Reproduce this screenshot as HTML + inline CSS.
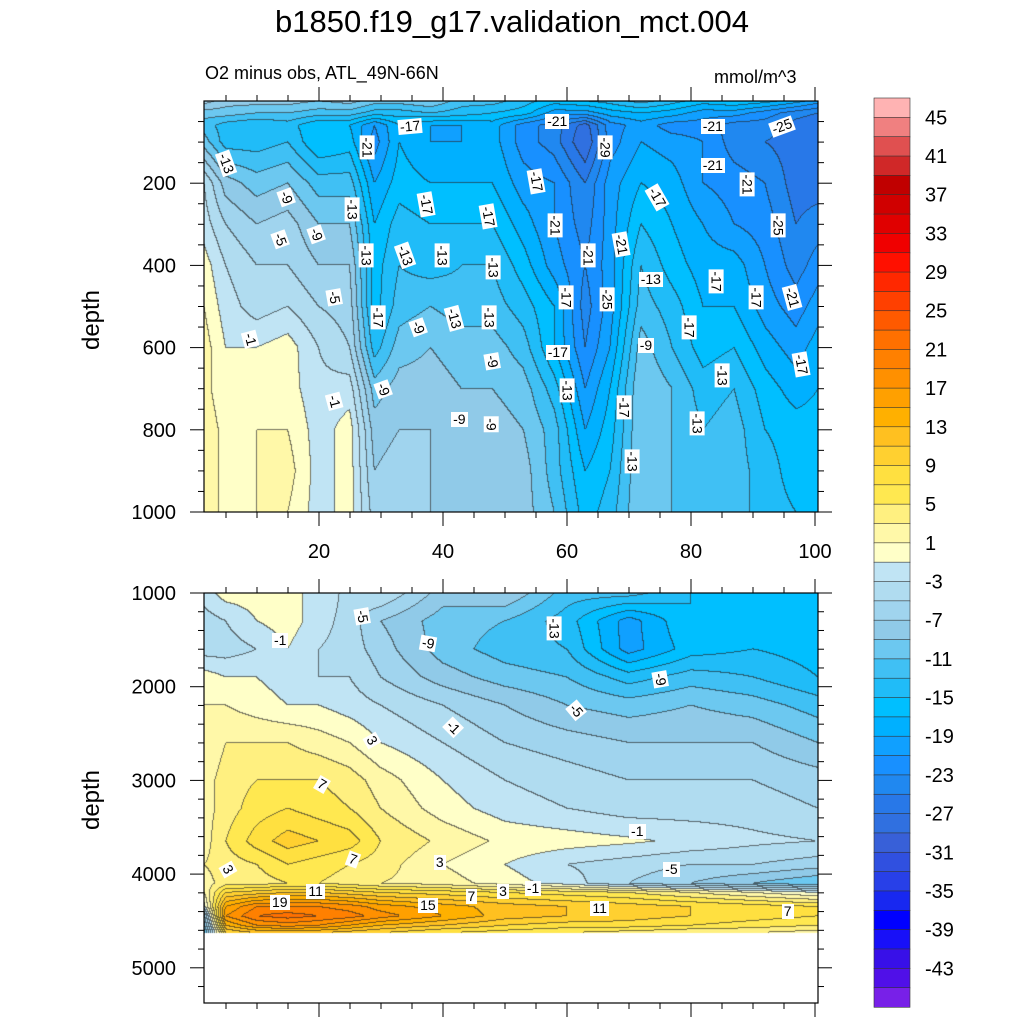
<!DOCTYPE html>
<html><head><meta charset="utf-8">
<style>
body{margin:0;background:#fff;width:1024px;height:1024px;position:relative;overflow:hidden;font-family:"Liberation Sans",sans-serif;}
.t{position:absolute;white-space:nowrap;color:#000;}
canvas{position:absolute;}
.lbl{position:absolute;background:#fff;font-size:14px;line-height:15px;padding:0 2px;transform-origin:center center;white-space:nowrap;}
</style></head><body>
<div class="t" style="left:0;width:1024px;text-align:center;top:4px;font-size:31px;">b1850.f19_g17.validation_mct.004</div>
<div class="t" style="left:205px;top:63px;font-size:18px;">O2 minus obs, ATL_49N-66N</div>
<div class="t" style="left:714px;top:67px;font-size:18px;">mmol/m^3</div>
<div class="t" style="left:62px;top:306px;font-size:24px;transform:rotate(-90deg);">depth</div>
<div class="t" style="left:62px;top:786px;font-size:24px;transform:rotate(-90deg);">depth</div>
<canvas id="cTop" width="614" height="411" style="left:204px;top:101px;"></canvas>
<canvas id="cBot" width="614" height="410" style="left:204px;top:593px;"></canvas>
<svg id="axes" width="1024" height="1024" style="position:absolute;left:0;top:0;"></svg>
<div id="labels"></div>
<script>
// ---- colour levels ----
const levelColors=["#ffb3b3","#f08080","#e05050","#d02828","#c00000","#d00000","#e00000","#f00000","#ff1000","#ff2800","#ff4000","#ff5a00","#ff7000","#ff8000","#ff9000","#ffa000","#ffb000","#ffc020","#ffd030","#ffe040","#ffe850","#fff080","#fff8a8","#ffffc8","#c0e4f4","#b0dcf0","#a0d4ee","#90cae8","#6cc8f0","#40c0f4","#20bcf8","#00bfff","#00b0ff","#10a0ff","#1890ff","#2088f0","#2878e8","#3070e0","#3860d8","#3050e0","#2840e8","#1828f0","#0000ff","#1810f8","#3810e8","#5010e8","#7820e8"];
const barLabels=[45,41,37,33,29,25,21,17,13,9,5,1,-3,-7,-11,-15,-19,-23,-27,-31,-35,-39,-43];
// ---- top panel data ----
const topX=[1.5,5,10,15,20,25,29,33,38,43,48,53,58,63,67,72,77,82,87,92,97,100.5];
const topDepth=[0,30,60,100,200,300,400,500,600,700,800,900,1000];
const topVals=[
[-6,-8,-8,-8,-9,-8,-10,-10,-9,-12,-12,-14,-16,-15,-14,-12,-14,-16,-15,-16,-18,-20],
[-10,-10,-11,-11,-12,-12,-14,-14,-13,-14,-15,-16,-20,-20,-18,-17,-18,-20,-20,-22,-24,-25],
[-12,-14,-15,-14,-17,-17,-21,-17,-19,-19,-18,-22,-24,-28,-22,-20,-22,-22,-24,-24,-26,-27],
[-10,-14,-14,-13,-17,-16,-22,-17,-19,-19,-18,-22,-24,-29,-22,-19,-20,-21,-24,-25,-26,-27],
[-3,-8,-10,-9,-12,-12,-19,-16,-17,-17,-17,-20,-21,-25,-20,-17,-18,-21,-22,-23,-26,-26],
[-2,-5,-7,-6,-9,-9,-17,-14,-15,-15,-15,-18,-21,-24,-20,-15,-17,-19,-21,-22,-25,-24],
[0,-3,-5,-5,-7,-7,-16,-13,-14,-13,-13,-16,-20,-23,-20,-13,-16,-18,-18,-21,-24,-22],
[1,-2,-4,-3,-5,-6,-16,-12,-11,-12,-12,-14,-17,-24,-20,-12,-14,-17,-17,-20,-22,-20],
[2,-1,-1,0,-3,-5,-14,-10,-9,-10,-10,-12,-17,-23,-19,-10,-13,-16,-15,-18,-20,-18],
[2,-1,0,0,-2.5,-2,-10,-8,-8,-9,-9,-10,-14,-21,-17,-9,-11,-14,-13,-16,-18,-17],
[3,0,1,1,-2,0,-8,-7,-7,-8,-8,-9,-12,-19,-16,-9,-11,-13,-12,-15,-16,-16],
[3,0,1,2,-2,0,-7,-6,-7,-8,-8,-8,-12,-17,-15,-9,-11,-12,-12,-14,-16,-16],
[3,0,1,1,-2,0,-6,-6,-7,-7,-7,-8,-11,-16,-14,-9,-11,-12,-12,-14,-15,-15]];
// ---- bottom panel data ----
const botX=[1.5,5,10,15,20,25,30,40,50,60,70,80,90,100.5];
const botDepth=[1000,1300,1600,1900,2200,2600,3000,3300,3650,3900,4100,4200,4350,4450,4550,4630];
const botVals=[
[-2,0,0,-1,-1,-4,-3,-8,-7,-12,-12,-15,-15,-16],
[-4,-3,-1,0,-2,-4,-7,-10,-11,-14,-20,-15,-15,-16],
[-4,-4,-3,-1,-3,-4,-6,-10,-12,-13,-20,-16,-15,-16],
[0,-1,-1,-2,-3,-3,-5,-8,-10,-11,-14,-12,-13,-15],
[1,1,0,-1,-1,-2,-3,-5,-7,-9,-10,-9,-10,-12],
[1,3,3,3,2,1,-1,-3,-5,-6,-7,-7,-7,-9],
[2,4,5,5,5,4,2,-1,-3,-4,-5,-5,-5,-6],
[2,4,6,7,6,5,3,0,-2,-3,-4,-4,-4,-5],
[2,5,8,10,9,8,5,2.5,0.5,0,-0.6,-1.5,-2.5,-3],
[3,4,5,7,6,5,4,1,-1,-3,-4,-5,-5,-6],
[2,4,4,5,5,4,3,2,0,-2,-5,-7,-9,-11],
[1,9,10,11,11,10,9,8,7,6,5,3,1,-1],
[-2,15,19,19,19,18,16,14,12,11,10,9,8,7],
[-8,17,21,22,21,20,18,15,12,11,10,9,8,7],
[-10,13,17,18,17,15,13,11,9,8,8,7,6,5],
[-12,9,11,11,11,10,9,7,6,5,4,3,3,2]];
// contour label annotations [text, x(lat), depth, rotation]
const topLabelText=["-17","-21","-21","-25","-13","-21","-29","-21","-17","-21","-9","-17","-17","-13","-9","-17","-21","-25","-5","-13","-13","-13","-13","-21","-21","-13","-17","-5","-17","-25","-17","-21","-17","-9","-13","-13","-17","-1","-17","-9","-9","-13","-17","-13","-9","-1","-17","-9","-9","-13","-13"];
const topLabelX=[34.7,58.4,83.5,94.6,5,27.7,66.1,83.5,55,89,14.7,37.3,74.5,25.3,19.5,47.3,58,94,13.7,27.6,33.9,39.9,48,63.4,68.7,73.5,84,22.4,59.8,66.4,90.5,96.3,29.5,36,41.8,47.4,79.7,8.9,58.5,72.7,47.9,85,97.7,60,30.3,22.4,69.2,42.6,47.7,81,70.5];
const topLabelD=[63,51,61,61,151,112,114,158,195,204,236,253,234,265,326,282,302,304,338,377,377,377,404,375,348,435,440,479,477,484,479,479,526,550,528,526,550,581,613,596,635,667,640,705,703,732,745,776,788,784,876];
const topLabelR=[-5,0,0,-20,70,90,90,0,80,90,70,80,60,90,70,80,90,90,70,90,70,90,90,90,80,0,90,80,90,90,90,75,90,70,75,90,90,75,0,0,80,90,80,90,70,75,90,0,90,90,90];
const botLabelText=["-5","-13","-1","-9","-9","-5","3","-1","7","-1","3","7","3","-5","11","19","15","7","3","-1","11","7"];
const botLabelX=[26.9,57.9,13.7,37.6,75,61.4,28.5,41.6,20.5,71.3,5.3,25.5,39.5,76.8,19.5,13.7,37.6,44.6,49.7,54.5,65.3,95.6];
const botLabelD=[1256,1384,1505,1537,1921,2252,2572,2433,3041,3550,3946,3839,3871,3956,4190,4307,4339,4243,4190,4158,4371,4403];
const botLabelR=[80,90,0,10,80,50,60,45,30,0,60,20,0,0,0,0,0,0,0,0,0,0];

// ---- scales ----
const xS=x=>195+6.2*x, xInv=p=>(p-195)/6.2;
const topY=d=>101+0.411*d, topYInv=p=>(p-101)/0.411;
const botY=d=>593+0.0937*(d-1000), botYInv=p=>(p-593)/0.0937+1000;
const BOTTOM_DATA_END=4630;

function binOf(v){ if(v>45) return 0; let k=Math.floor((45-v)/2)+1; return Math.max(0,Math.min(46,k)); }
function findIdx(arr,v){ if(v<=arr[0])return [0,0]; if(v>=arr[arr.length-1])return [arr.length-2,1];
  for(let i=0;i<arr.length-1;i++){ if(v<=arr[i+1]) return [i,(v-arr[i])/(arr[i+1]-arr[i])]; } }
function interp(xs,ds,vals,x,d){ const [i,tx]=findIdx(xs,x), [j,td]=findIdx(ds,d);
  const a=vals[j][i],b=vals[j][i+1],c=vals[j+1][i],e=vals[j+1][i+1];
  return (a*(1-tx)+b*tx)*(1-td)+(c*(1-tx)+e*tx)*td; }
function hex(h){return [parseInt(h.substr(1,2),16),parseInt(h.substr(3,2),16),parseInt(h.substr(5,2),16)];}
const rgb=levelColors.map(hex);

function drawPanel(id,left,top,xs,ds,vals,yInv,maxD){
  const cv=document.getElementById(id),ctx=cv.getContext('2d'),W=cv.width,H=cv.height;
  const img=ctx.createImageData(W,H),bins=new Int16Array(W*H);
  for(let py=0;py<H;py++){const d=yInv(top+py+0.5);
    for(let px=0;px<W;px++){ if(d>maxD){bins[py*W+px]=-1;continue;}
      bins[py*W+px]=binOf(interp(xs,ds,vals,xInv(left+px+0.5),d)); }}
  for(let py=0;py<H;py++)for(let px=0;px<W;px++){const k=py*W+px,b=bins[k],o=k*4;
    if(b<0){img.data[o]=255;img.data[o+1]=255;img.data[o+2]=255;img.data[o+3]=255;continue;}
    let c=rgb[b].slice();
    const r=px<W-1?bins[k+1]:b, dn=py<H-1?bins[k+W]:b;
    if((r!==b&&r>=0)||(dn!==b&&dn>=0)){c=c.map(v=>Math.round(v*0.35+40*0.65));}
    img.data[o]=c[0];img.data[o+1]=c[1];img.data[o+2]=c[2];img.data[o+3]=255;}
  ctx.putImageData(img,0,0);
}
drawPanel('cTop',204,101,topX,topDepth,topVals,topYInv,1e9);
drawPanel('cBot',204,593,botX,botDepth,botVals,botYInv,BOTTOM_DATA_END);

// ---- axes ----
const NS='http://www.w3.org/2000/svg',svg=document.getElementById('axes');
function ln(x1,y1,x2,y2,w){const l=document.createElementNS(NS,'line');l.setAttribute('x1',x1);l.setAttribute('y1',y1);l.setAttribute('x2',x2);l.setAttribute('y2',y2);l.setAttribute('stroke','#000');l.setAttribute('stroke-width',w||1);


svg.appendChild(l);}
function tx(x,y,s,anchor,name){const t=document.createElementNS(NS,'text');t.setAttribute('x',x);t.setAttribute('y',y);t.setAttribute('font-size',20);t.setAttribute('font-family','Liberation Sans, sans-serif');t.setAttribute('text-anchor',anchor);t.textContent=s;


svg.appendChild(t);}
function frame(l,t,r,b,name){const rc=document.createElementNS(NS,'rect');rc.setAttribute('x',l);rc.setAttribute('y',t);rc.setAttribute('width',r-l);rc.setAttribute('height',b-t);rc.setAttribute('fill','none');rc.setAttribute('stroke','#000');rc.setAttribute('stroke-width',1.2);


svg.appendChild(rc);}
const xTickVals=[20,40,60,80,100];
// top panel
frame(204,101,818,512,'top-panel-frame');
for(let x=5;x<=100;x+=5){const p=xS(x),maj=x%20===0;ln(p,101,p,maj?87:95);ln(p,512,p,maj?526:518);}
for(let d=50;d<=1000;d+=50){const p=topY(d),maj=d%200===0;ln(204,p,maj?190:198,p);ln(818,p,maj?832:824,p);}
[200,400,600,800,1000].forEach(d=>tx(176,topY(d)+7,String(d),'end','top-y-tick-label'));
xTickVals.forEach(x=>tx(xS(x),558,String(x),'middle','x-tick-label'));
// bottom panel
frame(204,593,818,1003,'bottom-panel-frame');
for(let x=5;x<=100;x+=5){const p=xS(x),maj=x%20===0;ln(p,593,p,maj?579:587);ln(p,1003,p,maj?1017:1009);}
for(let d=1000;d<=5300;d+=200){const p=botY(d),maj=d%1000===0;ln(204,p,maj?190:198,p);ln(818,p,maj?832:824,p);}
[1000,2000,3000,4000,5000].forEach(d=>tx(176,botY(d)+7,String(d),'end','bottom-y-tick-label'));
// colorbar
const cbTop=98,cbBot=1007,boxH=(cbBot-cbTop)/levelColors.length;
levelColors.forEach((c,i)=>{const r=document.createElementNS(NS,'rect');r.setAttribute('x',874);r.setAttribute('y',cbTop+i*boxH);r.setAttribute('width',36);r.setAttribute('height',boxH+0.3);r.setAttribute('fill',c);r.setAttribute('stroke','#333');r.setAttribute('stroke-width',0.6);


svg.appendChild(r);});
barLabels.forEach(v=>{const k=(45-v)/2+1;tx(925,cbTop+k*boxH+7,String(v),'start','colorbar-label');});
// contour labels
const lab=document.getElementById('labels');
function addLabels(texts,xsA,dsA,rs,yS){texts.forEach((s,i)=>{const d=document.createElement('div');d.className='lbl';d.textContent=s;


lab.appendChild(d);const w=d.offsetWidth,h=d.offsetHeight;d.style.left=(xS(xsA[i])-w/2)+'px';d.style.top=(yS(dsA[i])-h/2)+'px';d.style.transform='rotate('+rs[i]+'deg)';});}
addLabels(topLabelText,topLabelX,topLabelD,topLabelR,topY);
addLabels(botLabelText,botLabelX,botLabelD,botLabelR,botY);
</script>
</body></html>
